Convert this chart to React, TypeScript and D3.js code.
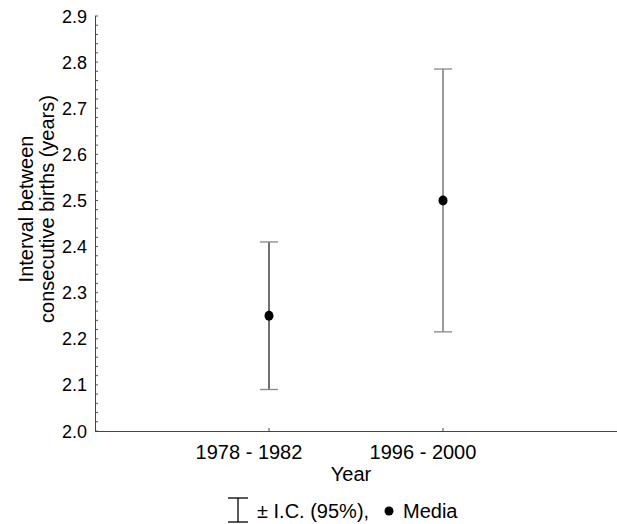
import React, { useEffect, useRef } from "react";
import * as d3 from "d3";

const categories = ["1978 - 1982", "1996 - 2000"];
const means = [2.25, 2.5];
const lower = [2.09, 2.215];
const upper = [2.41, 2.785];
const yTickLabels = ["2.0", "2.1", "2.2", "2.3", "2.4", "2.5", "2.6", "2.7", "2.8", "2.9"];

const W = 617;
const H = 524;
const left = 95;
const right = 617;
const top = 16;
const bottom = 431;
const font = "Arial, 'Liberation Sans', sans-serif";

export default function App() {
  const ref = useRef<SVGSVGElement>(null);

  useEffect(() => {
    const svg = d3.select(ref.current);
    svg.selectAll("*").remove();

    const x = d3.scalePoint<string>().domain(categories).range([left, right]).padding(1);
    const y = d3.scaleLinear().domain([2.0, 2.9]).range([bottom, top]);

    // minor ticks every 0.02, drawn inside the plot
    const minor = d3.range(0, 46).map((i) => 2.0 + i * 0.02);
    svg.append("g")
      .selectAll("line")
      .data(minor)
      .enter().append("line")
      .attr("x1", left)
      .attr("x2", left + 3)
      .attr("y1", (d) => y(d))
      .attr("y2", (d) => y(d))
      .attr("stroke", "#555")
      .attr("stroke-width", 1);

    // axes
    svg.append("line")
      .attr("x1", left + 0.5).attr("x2", left + 0.5)
      .attr("y1", top).attr("y2", bottom)
      .attr("stroke", "#444").attr("stroke-width", 1);
    svg.append("line")
      .attr("x1", left).attr("x2", right)
      .attr("y1", bottom + 0.5).attr("y2", bottom + 0.5)
      .attr("stroke", "#444").attr("stroke-width", 1.2);

    // y tick labels
    svg.append("g")
      .selectAll("text")
      .data(yTickLabels)
      .enter().append("text")
      .attr("x", left - 8)
      .attr("y", (d) => y(+d) + 6.5)
      .attr("text-anchor", "end")
      .style("font-family", font)
      .style("font-size", "18px")
      .text((d) => d);

    // x ticks and labels
    svg.append("g")
      .selectAll("line")
      .data(categories)
      .enter().append("line")
      .attr("x1", (d) => x(d)!)
      .attr("x2", (d) => x(d)!)
      .attr("y1", bottom)
      .attr("y2", bottom - 3)
      .attr("stroke", "#444");
    svg.append("g")
      .selectAll("text")
      .data(categories)
      .enter().append("text")
      .attr("x", (d) => x(d)! - 20)
      .attr("y", 459)
      .attr("text-anchor", "middle")
      .style("font-family", font)
      .style("font-size", "20px")
      .text((d) => d);

    svg.append("text")
      .attr("x", 351)
      .attr("y", 481)
      .attr("text-anchor", "middle")
      .style("font-family", font)
      .style("font-size", "20px")
      .text("Year");

    // y axis title
    const yt = svg.append("text")
      .attr("transform", "translate(33,209) rotate(-90)")
      .attr("text-anchor", "middle")
      .style("font-family", font)
      .style("font-size", "20px");
    yt.append("tspan").attr("x", 0).attr("dy", 0).text("Interval between");
    yt.append("tspan").attr("x", 0).attr("dy", 21).text("consecutive births (years)");

    // error bars
    const cap = 9;
    categories.forEach((c, i) => {
      const cx = x(c)!;
      svg.append("line")
        .attr("x1", cx).attr("x2", cx)
        .attr("y1", y(upper[i])).attr("y2", y(lower[i]))
        .attr("stroke", i === 0 ? "#222" : "#666").attr("stroke-width", 1.3);
      [upper[i], lower[i]].forEach((v) => {
        svg.append("line")
          .attr("x1", cx - cap).attr("x2", cx + cap)
          .attr("y1", y(v)).attr("y2", y(v))
          .attr("stroke", "#888").attr("stroke-width", 1.3);
      });
      svg.append("ellipse")
        .attr("cx", cx).attr("cy", y(means[i]))
        .attr("rx", 4.5).attr("ry", 5)
        .attr("fill", "#000");
    });

    // legend
    const lg = svg.append("g");
    lg.append("line").attr("x1", 238).attr("x2", 238).attr("y1", 498).attr("y2", 522).attr("stroke", "#000").attr("stroke-width", 1.3);
    lg.append("line").attr("x1", 228).attr("x2", 248).attr("y1", 498).attr("y2", 498).attr("stroke", "#000").attr("stroke-width", 1.3);
    lg.append("line").attr("x1", 228).attr("x2", 248).attr("y1", 522).attr("y2", 522).attr("stroke", "#000").attr("stroke-width", 1.3);
    lg.append("text")
      .attr("x", 257).attr("y", 518)
      .style("font-family", font).style("font-size", "20px")
      .text("± I.C. (95%),");
    lg.append("circle").attr("cx", 389).attr("cy", 511).attr("r", 4.5).attr("fill", "#000");
    lg.append("text")
      .attr("x", 403).attr("y", 518)
      .style("font-family", font).style("font-size", "20px")
      .text("Media");
  }, []);

  return (
    <svg
      ref={ref}
      width={W}
      height={H}
      style={{ position: "absolute", left: 0, top: 0, background: "#fff" }}
    />
  );
}
